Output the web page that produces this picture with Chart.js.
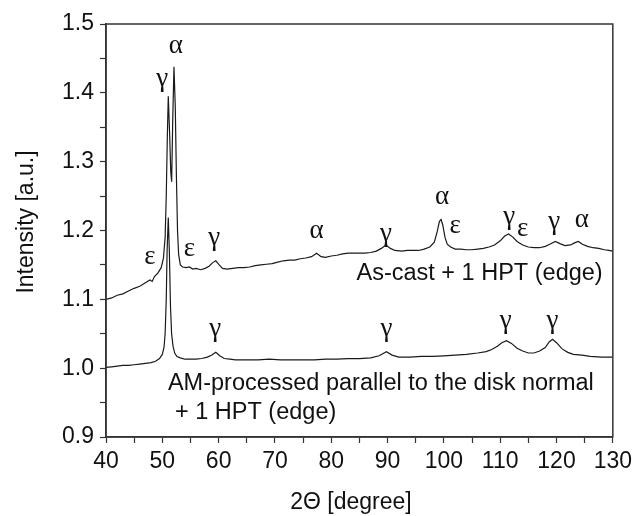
<!DOCTYPE html>
<html>
<head>
<meta charset="utf-8">
<script src="https://cdn.jsdelivr.net/npm/chart.js@4.4.0/dist/chart.umd.min.js"></script>
<style>
  body { margin: 0; background: #fff; }
  canvas { display: block; }
</style>
</head>
<body>
<canvas id="xrdChart" width="637" height="516"></canvas>
<script>
// As-cast + 1 HPT (edge)
const castAngle = [40, 41, 42, 43, 44, 45, 46, 47, 47.8, 48.2, 48.6, 49.2, 49.8, 50.2, 50.5, 50.7, 50.9, 51.06, 51.3, 51.5, 51.66, 51.85, 52.07, 52.3, 52.5, 52.7, 52.9, 53.2, 53.6, 54.2, 54.8, 55.4, 56, 56.8, 57.6, 58.3, 58.9, 59.5, 60.1, 60.7, 61.5, 62.5, 63.5, 64.5, 65.5, 66.5, 67.5, 68.5, 69.5, 70.5, 71.5, 72.5, 73.5, 74.5, 75.5, 76.5, 77.4, 78.2, 79, 80, 81, 82, 83, 84, 85, 86, 87, 88, 88.9, 89.7, 90.5, 91.3, 92.5, 93.5, 94.5, 95.5, 96.5, 97.5, 98.3, 98.8, 99.2, 99.5, 99.8, 100.2, 100.6, 101.2, 102, 103, 104, 105, 106, 107, 108, 109, 110, 110.8, 111.5, 112.3, 113, 114, 115, 116, 117, 118, 118.8, 119.8, 120.6, 121.5, 122.5, 123.2, 123.9, 124.6, 125.5, 126.5, 127.5, 128.5, 129.3, 130];
const castIntensity = [1.100, 1.102, 1.106, 1.108, 1.112, 1.116, 1.119, 1.124, 1.128, 1.126, 1.133, 1.138, 1.146, 1.160, 1.190, 1.250, 1.340, 1.395, 1.340, 1.285, 1.271, 1.360, 1.438, 1.380, 1.280, 1.200, 1.165, 1.150, 1.147, 1.146, 1.147, 1.144, 1.145, 1.143, 1.145, 1.148, 1.153, 1.156, 1.150, 1.145, 1.144, 1.145, 1.146, 1.146, 1.147, 1.149, 1.150, 1.151, 1.152, 1.154, 1.156, 1.157, 1.157, 1.159, 1.160, 1.162, 1.167, 1.162, 1.161, 1.163, 1.164, 1.166, 1.167, 1.167, 1.167, 1.167, 1.168, 1.170, 1.174, 1.179, 1.174, 1.171, 1.170, 1.171, 1.171, 1.171, 1.173, 1.176, 1.183, 1.198, 1.213, 1.216, 1.208, 1.190, 1.180, 1.176, 1.173, 1.173, 1.172, 1.172, 1.173, 1.174, 1.176, 1.179, 1.185, 1.192, 1.195, 1.190, 1.184, 1.179, 1.176, 1.175, 1.175, 1.177, 1.180, 1.184, 1.181, 1.178, 1.179, 1.182, 1.184, 1.180, 1.177, 1.175, 1.174, 1.172, 1.171, 1.170];

// AM-processed parallel to the disk normal + 1 HPT (edge)
const amAngle = [40, 41, 42, 43, 44, 45, 46, 47, 48, 48.8, 49.5, 50, 50.3, 50.5, 50.7, 50.85, 51.06, 51.25, 51.45, 51.65, 51.9, 52.2, 52.6, 53.2, 54, 55, 56, 57, 58, 58.8, 59.5, 60.2, 61, 62, 63, 65, 67, 69, 71, 73, 75, 77, 79, 81, 83, 85, 87, 88.5, 89.8, 90.8, 92, 94, 96, 98, 100, 102, 104, 106, 107.5, 108.5, 109.5, 110.3, 111.1, 112, 113, 114, 115, 116, 117, 118, 118.7, 119.3, 120, 121, 122, 123, 124.5, 126, 128, 130];
const amIntensity = [1.001, 1.002, 1.003, 1.004, 1.004, 1.005, 1.006, 1.007, 1.008, 1.010, 1.014, 1.020, 1.030, 1.050, 1.100, 1.170, 1.219, 1.170, 1.090, 1.050, 1.032, 1.022, 1.017, 1.015, 1.013, 1.013, 1.013, 1.014, 1.016, 1.019, 1.023, 1.018, 1.014, 1.013, 1.012, 1.012, 1.012, 1.013, 1.012, 1.012, 1.012, 1.012, 1.013, 1.013, 1.014, 1.014, 1.015, 1.018, 1.024, 1.019, 1.016, 1.016, 1.017, 1.017, 1.018, 1.019, 1.020, 1.022, 1.024, 1.027, 1.032, 1.037, 1.040, 1.036, 1.029, 1.025, 1.022, 1.022, 1.025, 1.030, 1.038, 1.042, 1.037, 1.028, 1.023, 1.020, 1.019, 1.017, 1.016, 1.016];

// phase labels (data coordinates)
const phaseText = ["ε", "γ", "α", "ε", "γ", "α", "γ", "α", "ε", "γ", "ε", "γ", "α", "γ", "γ", "γ", "γ"];
const phaseAngle = [47.8, 50.0, 52.4, 54.8, 59.2, 77.4, 89.7, 99.7, 102.0, 111.6, 114.0, 119.6, 124.5, 59.4, 89.8, 111.0, 119.3];
const phaseIntensity = [1.157, 1.416, 1.464, 1.169, 1.185, 1.195, 1.190, 1.245, 1.203, 1.216, 1.198, 1.208, 1.211, 1.053, 1.053, 1.065, 1.065];

// sample labels
const sampleText = ["As-cast + 1 HPT (edge)", "AM-processed parallel to the disk normal", "+ 1 HPT (edge)"];
const sampleAngle = [128.2, 51.0, 52.25];
const sampleIntensity = [1.138, 0.978, 0.935];
const sampleAlign = ["right", "left", "left"];

const ink = "#1a1a1a";
const sans = "'Liberation Sans', Arial, sans-serif";

function toPoints(xs, ys) {
  return xs.map((x, i) => ({ x: x, y: ys[i] }));
}

const annotate = {
  id: "annotate",
  afterDatasetsDraw(chart) {
    const { ctx, chartArea, scales } = chart;
    ctx.save();
    // frame round the plot
    ctx.strokeStyle = "#333";
    ctx.lineWidth = 1.5;
    ctx.strokeRect(chartArea.left, chartArea.top, chartArea.right - chartArea.left, chartArea.bottom - chartArea.top);

    ctx.fillStyle = "#111";
    ctx.textBaseline = "middle";
    ctx.textAlign = "center";
    ctx.font = "27px 'Liberation Serif', serif";
    phaseText.forEach((t, i) => {
      ctx.fillText(t, scales.x.getPixelForValue(phaseAngle[i]), scales.y.getPixelForValue(phaseIntensity[i]) - 3);
    });

    ctx.font = "23.5px " + sans;
    sampleText.forEach((t, i) => {
      ctx.textAlign = sampleAlign[i];
      ctx.fillText(t, scales.x.getPixelForValue(sampleAngle[i]), scales.y.getPixelForValue(sampleIntensity[i]));
    });

    // axis titles, placed like the original
    ctx.textAlign = "center";
    ctx.font = "23px " + sans;
    ctx.fillText("2Θ [degree]", 351, 503);
    ctx.translate(27, 222);
    ctx.rotate(-Math.PI / 2);
    ctx.fillText("Intensity [a.u.]", 0, 0);
    ctx.restore();
  }
};

const ctx = document.getElementById("xrdChart").getContext("2d");

const xrdChart = new Chart(ctx, {
  type: "scatter",
  data: {
    datasets: [
      {
        label: "As-cast + 1 HPT (edge)",
        data: toPoints(castAngle, castIntensity),
        showLine: true,
        borderColor: ink,
        borderWidth: 1.2,
        pointRadius: 0,
        tension: 0,
      },
      {
        label: "AM-processed + 1 HPT (edge)",
        data: toPoints(amAngle, amIntensity),
        showLine: true,
        borderColor: ink,
        borderWidth: 1.2,
        pointRadius: 0,
        tension: 0,
      },
    ],
  },
  options: {
    responsive: false,
    animation: false,
    layout: { padding: { top: 24, right: 24, left: 0, bottom: 0 } },
    plugins: {
      legend: { display: false },
      tooltip: { enabled: false },
    },
    scales: {
      x: {
        type: "linear",
        min: 40,
        max: 130,
        border: { display: true, color: "#333", width: 1.5 },
        grid: { drawOnChartArea: false, drawTicks: true, tickLength: 6, color: "#333", tickWidth: 1.2 },
        ticks: {
          stepSize: 5,
          autoSkip: false,
          maxRotation: 0,
          padding: 5,
          color: "#111",
          font: { family: sans, size: 23 },
          callback: (v) => (v % 10 === 0 ? String(v) : ""),
        },
        title: { display: false },
        afterFit: (scale) => { scale.height = 79; },
      },
      y: {
        min: 0.9,
        max: 1.5,
        border: { display: true, color: "#333", width: 1.5 },
        grid: { drawOnChartArea: false, drawTicks: true, tickLength: 6, color: "#333", tickWidth: 1.2 },
        ticks: {
          stepSize: 0.05,
          autoSkip: false,
          padding: 6,
          color: "#111",
          font: { family: sans, size: 23 },
          callback: (v) => {
            const r = Math.round(v * 100);
            return r % 10 === 0 ? (r / 100).toFixed(1) : "";
          },
        },
        title: { display: false },
        afterFit: (scale) => { scale.width = 106; },
      },
    },
  },
  plugins: [annotate],
});
</script>
</body>
</html>
